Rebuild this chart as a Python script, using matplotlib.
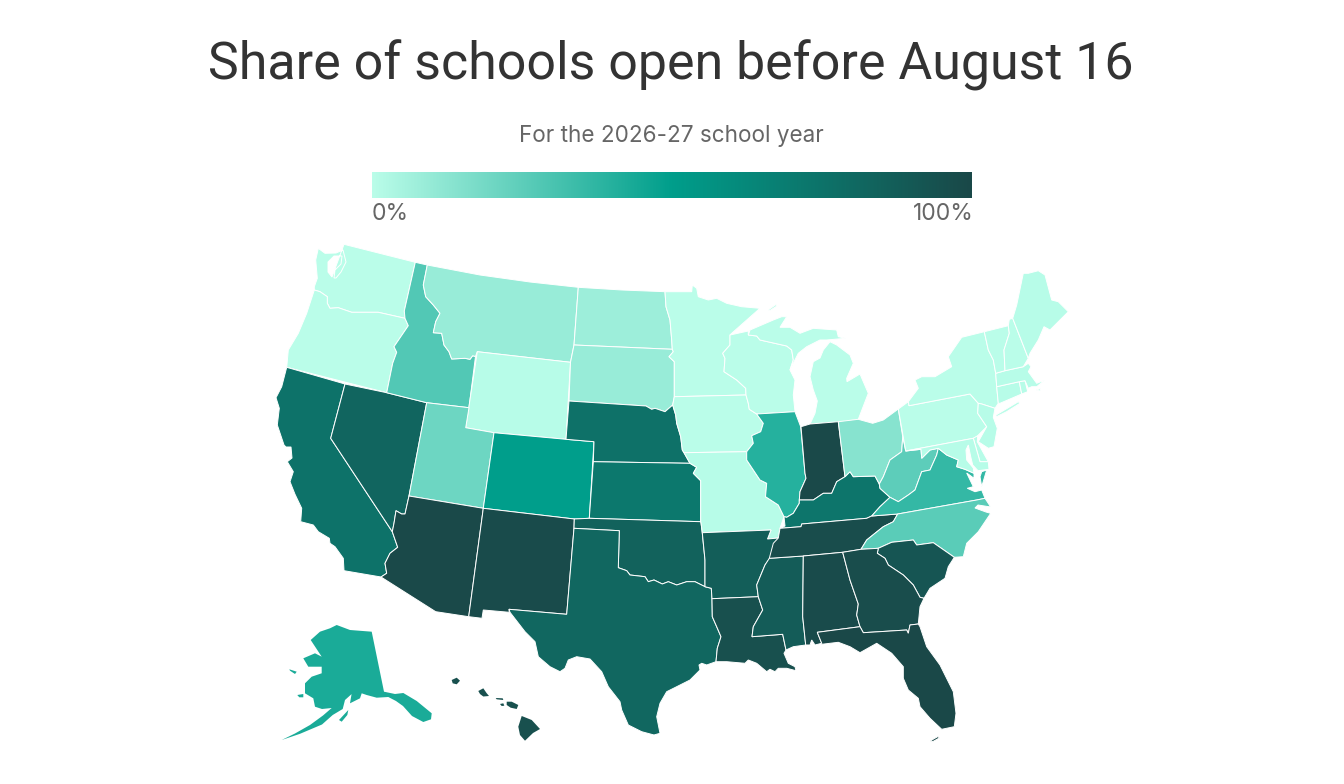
import numpy as np
import matplotlib
matplotlib.use("Agg")
import matplotlib.pyplot as plt
from matplotlib.colors import LinearSegmentedColormap, Normalize
from matplotlib.patches import Polygon

TITLE = "Share of schools open before August 16"
SUBTITLE = "For the 2026-27 school year"
LEGEND_LOW = "0%"
LEGEND_HIGH = "100%"

# share of schools per state
states = ["WA", "OR", "CA", "NV", "ID", "MT", "WY", "UT", "AZ", "CO", "NM", "ND", "SD", "NE", "KS", "OK", "TX",
          "MN", "IA", "MO", "AR", "LA", "WI", "IL", "MS", "MI", "IN", "KY", "TN", "AL", "OH", "WV", "VA", "NC",
          "SC", "GA", "FL", "PA", "NY", "NJ", "DE", "MD", "CT", "RI", "MA", "VT", "NH", "ME", "AK", "HI"]
shares = [0, 0, 75, 83, 28, 9, 1, 21, 99, 50, 98, 8, 9, 76, 72, 85, 82,
          0, 0, 1, 87, 95, 0, 40, 88, 0, 99, 74, 97, 98, 14, 25, 36, 26,
          92, 97, 100, 0, 0, 1, 1, 1, 1, 1, 1, 0, 0, 1, 43, 95]

ramp_colors = ["#bafde9", "#009e8b", "#1a4848"]

# traced outlines, image pixels
wa_or = [(314.3, 290), (320, 291.7), (327.3, 296.7), (327.3, 303.3), (330, 308.3), (338.3, 307.7), (351.7, 312.3),
         (378.3, 312.3), (405, 318.3)]
or_id = [(405, 318.3), (408.3, 325.7), (394, 346.7), (396.7, 352.3), (392.7, 363.3), (386.7, 392.7)]
id_mt = [(427.3, 265), (423.3, 285), (425.7, 296.7), (433.3, 305), (440, 313.3), (435.7, 321.7), (433.3, 332.7),
         (441.7, 333.3), (444, 345), (449, 351.7), (451.7, 359), (465, 358.3), (470, 359.3), (472.7, 355.7),
         (475.5, 356.5)]
nv_az = [(409, 496), (405, 514), (401.7, 514), (396, 510.7), (394, 523.3), (392.3, 531.7)]
ca_az = [(392.3, 531.7), (397.7, 547.3), (390, 553.3), (385, 563.3), (386.7, 573.3), (381, 577)]
red_river = [(618.3, 567.7), (626.7, 570.7), (630, 575), (645, 576.7), (648.3, 581.7), (654, 580), (662.3, 584),
             (668.3, 581.7), (676.7, 585), (686.7, 581.7), (695, 581.7), (705, 586.7)]
sd_ne = [(569, 401), (646, 406), (651.7, 409.3), (655, 408.3), (665, 411.7), (672.7, 405)]
mn_dak = [(665, 291.7), (666, 306.7), (670, 320), (671.7, 340), (672.3, 349.3), (673.3, 351.7), (669, 356.7),
          (674.3, 361.7), (674.3, 396.7)]
missouri_river = [(672.7, 405), (675.7, 415), (676.7, 423.3), (680.7, 436.7), (682.3, 450), (684, 452.7),
                  (690, 463.3)]
mo_ks = [(690, 463.3), (696.7, 467.3), (693.3, 473.3), (700.7, 480.7), (700.7, 521.7), (701, 522.7), (702.3, 532.7)]
upper_miss = [(745.7, 388.3), (746, 395), (748.3, 403.3), (749.3, 409.3), (756.7, 414), (763.3, 423.3),
              (760.7, 431.7), (751.7, 435.7), (753.3, 443.3), (746.7, 451.7)]
mo_il = [(746.7, 451.7), (746.7, 460), (760, 480), (766.7, 483.3), (765.5, 496.7), (778.3, 505), (784, 516.7)]
ar_ms = [(778.3, 538), (770, 558), (765, 565), (756.7, 585), (758.3, 596.7)]
la_ms = [(758.3, 596.7), (762.7, 610), (753.3, 626.7), (752, 636.7), (782.7, 634.3), (786, 650)]
tx_la = [(711.3, 588.3), (712, 598.7), (712.3, 616.7), (716.7, 626.7), (721, 636.7), (717.3, 648.3), (716, 661.7)]
ohio_in = [(799.3, 500), (813.3, 500), (823.3, 493.3), (831.7, 493.3), (836.7, 481.7), (845, 476.7)]
ky_wv = [(845, 476.7), (850, 471.7), (853.3, 476.7), (875, 476), (879.3, 484), (880, 488.3), (890, 497.3)]
il_ky = [(784, 516.7), (786.7, 517.3), (793.3, 513.3), (799.3, 503.3), (799.3, 500)]
wv_va = [(890, 497.3), (898.3, 501.7), (908.3, 495), (915, 490), (921.7, 471.7), (930, 470), (936.7, 455),
         (938.3, 448.3)]
tn_nc = [(897.7, 514), (893.3, 521.7), (883.3, 526.7), (875, 533.3), (866.7, 540), (861, 549.3)]
ga_sc = [(878.3, 548.3), (877.3, 553.3), (885, 558.3), (888.3, 565), (903.3, 575), (913.3, 585), (920, 597.3),
         (924, 598.3)]
al_ga = [(842.7, 552.3), (850, 580), (858.3, 604), (856.7, 615), (860, 626.7)]
ny_pa = [(909, 405.7), (970, 394), (978.3, 403.3)]
pa_nj = [(978.3, 403.3), (977.7, 413.3), (986.7, 426.7), (976.7, 436.7), (973.3, 438.3)]
vt_ny = [(984.3, 331.7), (988.3, 350), (993.3, 360), (995.7, 373.3)]
vt_nh = [(1008.3, 325.7), (1009.3, 333.3), (1004, 350), (1005, 370.7)]
wi_mi = [(756.7, 336), (760, 340), (786.7, 346), (791.7, 350), (793.3, 360), (790, 370)]
tn_ky_line = [(780, 528.3), (801, 526.7), (801.7, 524), (866.7, 518.3), (871.7, 516)]

shapes = {
    "WA": [[(344, 244.3), (415.3, 262.3), (404.3, 311)] + wa_or[::-1] + [(314.3, 286.7), (317.3, 278.3), (315.7, 260),
           (318.3, 248.3), (325, 253.3), (336, 253), (343, 250), (346, 262), (341, 272), (336, 278), (334, 278),
           (335, 270), (341, 264), (342, 256), (334, 256), (328, 262), (328, 272), (332, 277)]],
    "OR": [wa_or + or_id + [(286.7, 367.3), (288.3, 350), (298.3, 333.3), (306.7, 313.3)]],
    "CA": [[(286.7, 367.3), (345, 384), (330.7, 438.3)] + ca_az + [(344, 570.7), (343.3, 558.3), (335, 546.7),
           (330, 543.3), (329.3, 538.3), (318.3, 531.7), (313.3, 525), (300.7, 521.7), (301.7, 508.3), (295, 494.3),
           (290, 481.7), (293.3, 471.7), (287.3, 461.7), (292, 458), (291, 447), (286, 447), (284, 445),
           (277.3, 425), (279.3, 408.3), (276, 397.7), (281.7, 386.7)]],
    "NV": [[(345, 384), (386.7, 392.7), (426.7, 402.7)] + nv_az + [(330.7, 438.3)]],
    "ID": [[(415.3, 262.3)] + id_mt + [(469, 407.7), (426.7, 402.7), (386.7, 392.7)] + or_id[::-1][1:] +
           [(404.3, 311)]],
    "MT": [[(427.3, 265), (480, 275), (530, 282), (578.3, 287.3), (574, 345), (570.5, 362.3), (477.3, 351.7)] +
           id_mt[::-1]],
    "WY": [[(477.3, 351.7), (570.5, 362.3), (566, 439.3), (494, 432.7), (465.7, 427.7)]],
    "UT": [[(426.7, 402.7), (469, 407.7), (465.7, 427.7), (494, 432.7), (483.3, 508.3), (409, 496)]],
    "AZ": [[(409, 496), (483.3, 508.3), (468.7, 616.7), (435.7, 611.7)] + ca_az[::-1] + nv_az[::-1][1:]],
    "CO": [[(494, 432.7), (566, 439.3), (594, 441.7), (589.3, 518.3), (574.3, 519), (483.3, 508.3)]],
    "NM": [[(483.3, 508.3), (574.3, 519), (574, 528.3), (566.7, 614.3), (509, 609.3), (509.3, 612.3), (483.3, 610),
            (482, 618.3), (468.7, 616.7)]],
    "ND": [[(578.3, 287.3), (622, 290), (665, 291.7), (666, 306.7), (670, 320), (671.7, 340), (672.3, 349.3),
            (574, 345)]],
    "SD": [[(574, 345), (672.3, 349.3), (673.3, 351.7), (669, 356.7), (674.3, 361.7), (674.3, 396.7), (672.7, 405)] +
           sd_ne[::-1][1:] + [(570.5, 362.3)]],
    "NE": [sd_ne + missouri_river + [(593.3, 461.7), (594, 441.7), (566, 439.3)]],
    "KS": [[(593.3, 461.7)] + mo_ks[:5] + [(589.3, 518.3)]],
    "OK": [[(574.3, 519), (589.3, 518.3), (700.7, 521.7), (701, 522.7), (702.3, 533.3), (705, 560)] +
           red_river[::-1] + [(619.3, 530.7), (574, 528.3)]],
    "TX": [[(574, 528.3), (619.3, 530.7)] + red_river + tx_la + [(706.7, 665), (701.7, 663.3), (699, 665), (700, 670),
           (690, 680), (676.7, 686.7), (666.7, 691.7), (660, 703.3), (656.7, 716.7), (660, 733.3), (654, 735),
           (641.7, 731.7), (628.3, 725), (621.7, 710), (620, 701.7), (608.3, 686.7), (601.7, 671.7), (590, 659),
           (576.7, 656.7), (568.3, 660), (565, 668.3), (560, 671.7), (550, 666.7), (538.3, 656.7), (535, 641.7),
           (525, 631.7), (510, 612.3), (509, 609.3), (566.7, 614.3)]],
    "MN": [[(665, 291.7), (691.7, 291.7), (692.3, 285), (696.7, 288.3), (698.3, 296.7), (708.3, 300), (716.7, 298.3),
            (726.7, 303.3), (741.7, 306.7), (760, 308.3), (731.7, 333.3), (730, 335), (730, 345), (722.7, 353.3),
            (725, 358.3), (724, 371.7), (736.7, 380), (745.7, 388.3), (746, 395), (674.3, 396.7)] + mn_dak[::-1][1:]],
    "IA": [[(674.3, 396.7), (746, 395)] + upper_miss[2:] + missouri_river[::-1][1:]],
    "MO": [[(684, 452.7)] + mo_il + [(780, 528.3), (778.3, 538), (767.5, 539), (771, 530)] + mo_ks[::-1]],
    "AR": [[(702.3, 532.7), (771, 530), (767.5, 539)] + ar_ms + [(712, 598.7), (711.3, 588.3), (705, 586.7),
            (705, 560)]],
    "LA": [[(712, 598.7)] + la_ms + [(784, 653.3), (788.3, 663.3), (795, 666.7), (796, 670.7), (786.7, 668.3),
            (778.3, 668.3), (775, 671.7), (770, 669.3), (766.7, 671.7), (756.7, 663.3), (748.3, 660), (745, 663.3),
            (726.7, 661.7)] + tx_la[::-1][:-2]],
    "WI": [[(730, 335), (748.3, 331), (748.3, 335)] + wi_mi + [(795, 380), (793.3, 395), (795, 411.7), (756.7, 414),
            (749.3, 409.3), (748.3, 403.3), (746, 395), (745.7, 388.3), (736.7, 380), (724, 371.7), (725, 358.3),
            (722.7, 353.3), (730, 345)]],
    "IL": [[(756.7, 414), (795, 411.7), (800.7, 426.7), (805, 473.3), (806, 478.3), (800, 491.7)] + il_ky[::-1] +
           mo_il[::-1] + upper_miss[5:][::-1][1:]],
    "MS": [[(769.3, 558.3), (803.3, 556), (802.7, 616.7), (805.7, 645), (793.3, 646.7), (786, 650)] +
           la_ms[::-1][1:] + ar_ms[::-1][1:3]],
    "MI": [[(756.7, 336), (748.3, 335), (750, 330), (773.3, 320), (781.7, 316.7), (786.7, 316.7), (780, 327.3),
            (790, 327.3), (800, 333.3), (813.3, 328.3), (836.7, 330), (838.3, 336.7), (845.7, 338.3), (826.7, 340),
            (820, 340), (806.7, 346.7), (798.3, 353.3), (790, 370), (793.3, 360), (791.7, 350), (786.7, 346),
            (760, 340)],
           [(810, 424), (815, 413.3), (817.3, 401), (813.3, 390), (810, 376.7), (813.3, 361.7), (820, 358),
            (823.3, 350), (830, 341.7), (836.7, 345), (850, 355), (853.3, 363.3), (846.7, 378.3), (847, 381.7),
            (860, 374), (868.3, 393.3), (858.3, 419.3), (840, 422.3)],
           [(768, 310), (776, 304.5), (777, 306), (770, 310.5)]],
    "IN": [[(801, 426.7), (810, 424), (838.3, 421.7), (845, 476.7)] + ohio_in[::-1][1:] + [(800, 491.7), (806, 478.3),
            (805, 473.3)]],
    "KY": [il_ky[:] + ohio_in[1:] + ky_wv[1:] + [(880, 506.7)] + tn_ky_line[::-1] + [(785, 526)]],
    "TN": [[(769.3, 558.3), (773.3, 543.3), (778.3, 538)] + tn_ky_line + [(897.7, 514)] + tn_nc[1:] +
           [(842.7, 552.3), (803.3, 556)]],
    "AL": [[(803.3, 556)] + al_ga + [(817.3, 632.3), (821.7, 643.3), (815, 645), (811.7, 640), (810, 645),
            (805.7, 645), (802.7, 616.7)]],
    "OH": [[(838.3, 421.7), (858.3, 419.3), (872.7, 423.3), (883.3, 420), (898.3, 409), (902.7, 436.7), (901.7, 451.7),
            (890, 460), (883.3, 476.7), (879.3, 484), (875, 476), (853.3, 476.7), (850, 471.7), (845, 476.7)]],
    "WV": [[(902.7, 436.7), (905.7, 451), (921, 449.3), (921.7, 458.3), (930, 450), (938.3, 448.3)] + wv_va[::-1][1:] +
           [(880, 488.3), (879.3, 484), (883.3, 476.7), (890, 460), (901.7, 451.7)]],
    "VA": [wv_va + [(946.7, 455), (958.3, 460), (956.7, 466.7), (965, 469.3), (974, 473.3), (974, 478.3),
            (966.7, 473), (973.3, 486.7), (967.3, 488.3), (975, 491.7), (981.7, 490), (985, 498.3), (976.7, 500),
            (897.7, 514), (871.7, 516), (880, 506.7)],
           [(986.7, 470), (981.7, 486.7), (980, 476.7), (981.7, 471.7)]],
    "NC": [[(897.7, 514), (976.7, 500), (985, 498.3), (990.7, 507), (978, 505), (975, 508), (986, 512), (990.7, 513.3),
            (978.3, 531.7), (966.7, 543.3), (963.3, 556.7), (954.3, 557.3), (933.3, 542.7), (916.7, 545),
            (913.3, 540), (891.7, 542.3), (878.3, 548.3), (861, 549.3)] + tn_nc[::-1][1:]],
    "SC": [ga_sc + [(930, 588.3), (945, 578.3), (948.3, 566.7), (954.3, 557.3), (933.3, 542.7), (916.7, 545),
            (913.3, 540), (891.7, 542.3)]],
    "GA": [[(842.7, 552.3), (861, 549.3)] + ga_sc + [(920, 606.7), (918.3, 624), (910, 625), (908.3, 633.3),
            (906.7, 630), (863.3, 632.7), (860, 626.7), (856.7, 615), (858.3, 604), (850, 580)]],
    "FL": [[(817.3, 632.3), (860, 626.7), (863.3, 632.7), (906.7, 630), (908.3, 633.3), (910, 625), (918.3, 624),
            (920, 626.7), (926.7, 646.7), (940, 665), (953.3, 691.7), (956, 713.3), (954.3, 726.7), (941.7, 729.3),
            (930, 718.3), (920, 706.7), (918.3, 698.3), (908.3, 690), (903.3, 678.3), (903.3, 666.7), (891.7, 653.3),
            (876.7, 643.3), (860, 652.7), (850, 646.7), (838.3, 642.3), (821.7, 644.3), (821.7, 643.3)],
           [(930, 741), (938, 736.5), (939.3, 738), (933, 741.5)]],
    "PA": [[(898.3, 409), (908.3, 401.7)] + ny_pa + pa_nj[1:] + [(905.7, 451)]],
    "NY": [[(909, 405.7), (908.3, 401.7), (918.3, 388.3), (915, 380), (921.7, 376.7), (935, 376.7), (951.7, 366.7),
            (948.3, 356.7), (961.7, 337.3)] + vt_ny + [(996.7, 386.7), (998.3, 403.3), (995, 408.3), (981.7, 404),
            (978.3, 403.3), (970, 394)],
           [(996, 415), (1018.3, 401.7), (1020, 403.3), (1006.7, 411.7), (996, 417)]],
    "NJ": [[(981.7, 404), (995, 408.3), (993.3, 417.3), (997.3, 428.3), (994, 446.7), (988.3, 448.3), (978.3, 441.7),
            (986.7, 426.7), (977.7, 413.3), (978.3, 403.3)]],
    "DE": [[(973.3, 438.3), (977.7, 435.7), (977.3, 441.7), (988.3, 461.7), (980, 461.7)]],
    "MD": [[(905.7, 451), (973.3, 438.3), (980, 461.7), (988.3, 461.7), (989, 469.3), (978, 470.7), (972.7, 465),
            (970.7, 456.7), (968.3, 445), (966, 450), (966.7, 460), (973.3, 468), (974, 473.3), (965, 469.3),
            (956.7, 466.7), (958.3, 460), (946.7, 455), (938.3, 448.3), (930, 450), (921.7, 458.3), (921, 449.3)]],
    "CT": [[(996.7, 386.7), (1019.3, 381.7), (1021.7, 394), (1000, 403.3), (998.3, 403.3)]],
    "RI": [[(1019.3, 381.7), (1025, 380.7), (1027.7, 391.7), (1021.7, 394)]],
    "MA": [[(995.7, 373.3), (1005, 370.7), (1023.3, 366.7), (1028.3, 363.3), (1031, 366.7), (1028.3, 371.7),
            (1036.7, 383.3), (1045, 380), (1036.7, 386.7), (1031.7, 386.7), (1028.3, 388.3), (1025, 380.7),
            (1019.3, 381.7), (996.7, 386.7)],
           [(1036, 390), (1041, 388.5), (1040, 391)]],
    "VT": [vt_ny + vt_nh[::-1]],
    "NH": [[(1008.3, 325.7), (1009.3, 319.3), (1012.7, 318.3), (1028.3, 358.3), (1023.3, 366.7)] + vt_nh[::-1][:-1]],
    "ME": [[(1012.7, 318.3), (1016.7, 305), (1023.3, 273.3), (1028.3, 273.3), (1038.3, 270.7), (1045, 275),
            (1051.7, 300), (1058.3, 301.7), (1068.3, 311.7), (1050, 330), (1044, 326.7), (1038.3, 340), (1030, 353.3),
            (1028.3, 358.3)]],
    "AK": [[(336.7, 625), (350, 630), (371.7, 631.7), (384, 691.7), (395, 694), (403.3, 693), (416.7, 701),
            (431.7, 713.3), (431, 719.3), (423.3, 722), (412, 716), (403, 706), (396, 701), (388.3, 697),
            (376.7, 697.7), (366.7, 695), (361.7, 693.3), (360, 698.3), (350, 703.3), (351.7, 693.3), (355, 691),
            (345, 700), (342.7, 709), (332.7, 715), (322, 724.5), (300, 733.8), (281.7, 740), (295, 733.5),
            (310, 725), (323, 715.5), (331.7, 708), (322, 709), (315, 706.7), (313.3, 698.3), (305, 693.3),
            (305, 683.3), (311.7, 676.7), (321.7, 673.3), (321.7, 666.7), (308.3, 666.7), (303.3, 658.3), (315, 653.3),
            (321.7, 656.7), (310.7, 640), (320, 631.7), (330, 628.3)],
           [(339, 720), (348.3, 710), (347.3, 715), (341.7, 721.7)],
           [(289.3, 669.3), (296.7, 671.7), (295, 674), (290, 670.7)],
           [(297.3, 695), (303.3, 694), (303.3, 697.3), (299.3, 697.3)]],
    "HI": [[(451.7, 680), (456.7, 677.7), (460, 680.7), (456.7, 684.3), (452.7, 683.3)],
           [(478.3, 691), (483.3, 688.3), (486.5, 693), (489, 696), (483.3, 696.5), (480, 694)],
           [(495.7, 698), (502.7, 698.3), (503.3, 700), (496.7, 699.3)],
           [(500, 704), (503.3, 703.3), (504.3, 705.7), (501.7, 706)],
           [(506.7, 701.7), (511.7, 701.7), (518.3, 705), (516.7, 709), (510.7, 707.7), (506.7, 705)],
           [(521.7, 716), (531.7, 720), (540, 729), (533, 733), (525, 740.7), (520, 735), (518.3, 726.7)]],
}

cmap = LinearSegmentedColormap.from_list("share", ramp_colors)
norm = Normalize(0, 100)

fig = plt.figure(figsize=(13.44, 7.84), dpi=100)
ax = fig.add_axes([0, 0, 1, 1])

for state, share in zip(states, shares):
    edge = "none" if state in ("AK", "HI") else "white"
    for ring in shapes[state]:
        ax.add_patch(Polygon(ring, closed=True, facecolor=cmap(norm(share)), edgecolor=edge, linewidth=0.7))

ax.imshow(np.linspace(0, 100, 256).reshape(1, -1), cmap=cmap, norm=norm, extent=(372, 972, 198, 172), aspect="auto")

ax.set_xlim(0, 1344)
ax.set_ylim(784, 0)
ax.axis("off")

ax.text(671, 65.5, TITLE, ha="center", va="center", fontsize=37.4, family="Roboto", color="#333333")
ax.text(671.5, 135.5, SUBTITLE, ha="center", va="center", fontsize=16.2, family="Inter", color="#666666")
ax.text(372, 213.5, LEGEND_LOW, ha="left", va="center", fontsize=16.5, family="Inter", color="#666666")
ax.text(973.5, 213.5, LEGEND_HIGH, ha="right", va="center", fontsize=16.5, family="Inter", color="#666666")

fig.savefig("out.png", dpi=100)
